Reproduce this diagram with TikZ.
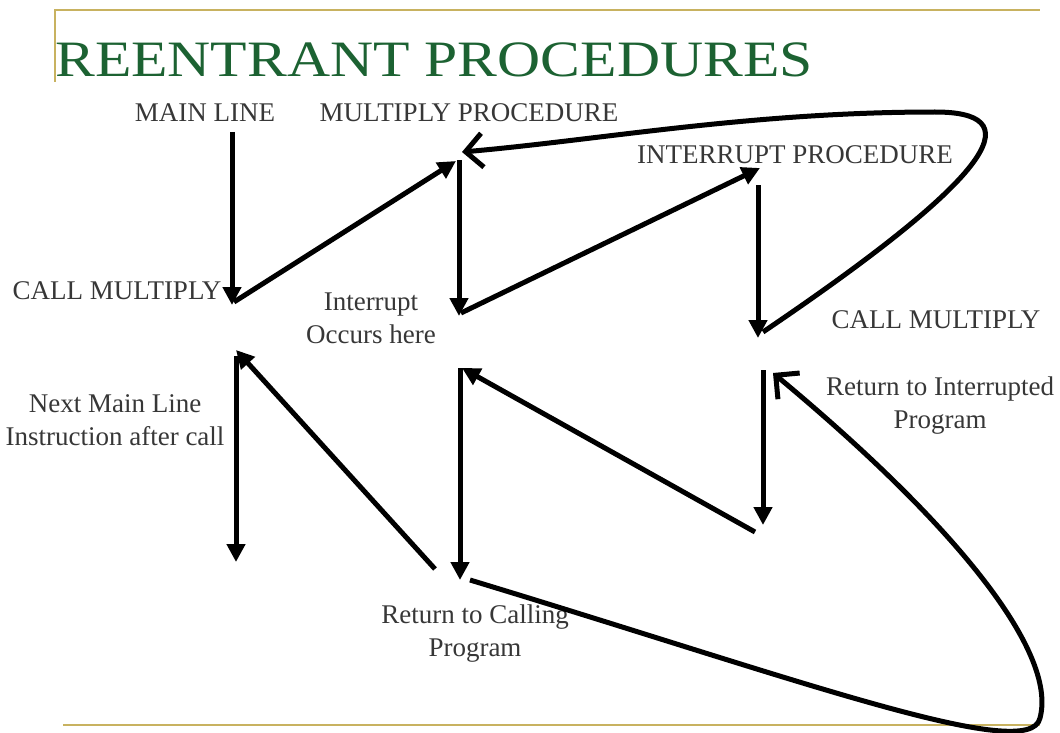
\documentclass[tikz,border=0pt]{standalone}
\usepackage{fontspec}
\setmainfont{Liberation Serif}
\usetikzlibrary{arrows.meta}
\definecolor{gold}{RGB}{200,178,96}
\definecolor{titlegreen}{RGB}{28,98,50}
\definecolor{txt}{RGB}{55,55,55}
\begin{document}
\begin{tikzpicture}[x=1pt,y=-1pt,
  flow/.style={line width=5pt, -{Triangle[length=18pt,width=18pt]}},
  loopline/.style={line width=5pt, -{Straight Barb[length=17pt,width=34pt]}},
  lbl/.style={font=\fontsize{27}{33}\selectfont, text=txt, align=center, inner sep=0pt},
  rule/.style={gold, line width=2.5pt}]
\useasboundingbox (0,0) rectangle (1060,733);
% frame rules
\coordinate (tl) at (55,10);
\coordinate (tr) at (1040,10);
\coordinate (lb) at (55,82);
\coordinate (bl) at (63,725);
\coordinate (br) at (1040,725);
\draw[rule] (lb) -- (tl) -- (tr);
\draw[rule] (bl) -- (br);
% title
\node[anchor=base west, font=\fontsize{51}{51}\selectfont, text=titlegreen, inner sep=0pt] (title) at (55,77) {\scalebox{1.17}[1]{REENTRANT PROCEDURES}};
% labels
\node[lbl] (mainline) at (205,113) {MAIN LINE};
\node[lbl] (multproc) at (469,113) {MULTIPLY PROCEDURE};
\node[lbl] (intproc) at (795,155) {INTERRUPT PROCEDURE};
\node[lbl] (callL) at (117,291) {CALL MULTIPLY};
\node[lbl] (callR) at (936,320) {CALL MULTIPLY};
\node[lbl] (intocc) at (371,318) {Interrupt\\Occurs here};
\node[lbl] (nextml) at (115,420) {Next Main Line\\Instruction after call};
\node[lbl] (retint) at (940,406) {Return to Interrupted\\Program};
\node[lbl] (retcall) at (475,634) {Return to Calling\\Program};
% points
\coordinate (a0) at (232,132);
\coordinate (a1) at (232,305);
\coordinate (b0) at (234,302);
\coordinate (b1) at (456,161);
\coordinate (c0) at (459,160);
\coordinate (c1) at (459,316);
\coordinate (d0) at (461,313);
\coordinate (d1) at (760,168);
\coordinate (e0) at (758,185);
\coordinate (e1) at (758,338);
\coordinate (f0) at (763,332);
\coordinate (f1) at (935,112);
\coordinate (f2) at (462,152);
\coordinate (g0) at (435,569);
\coordinate (g1) at (236,350);
\coordinate (h0) at (236,356);
\coordinate (h1) at (236,562);
\coordinate (i0) at (460,368);
\coordinate (i1) at (460,580);
\coordinate (j0) at (755,532);
\coordinate (j1) at (462,368);
\coordinate (k0) at (763,370);
\coordinate (k1) at (763,525);
\coordinate (m0) at (470,580);
\coordinate (m1) at (1040,718);
\coordinate (m2) at (773,373);
% upper arrows
\draw[flow] (a0) -- (a1);
\draw[flow] (b0) -- (b1);
\draw[flow] (c0) -- (c1);
\draw[flow] (d0) -- (d1);
\draw[flow] (e0) -- (e1);
\draw[loopline] (f0) .. controls (1010,165) and (1025,112) .. (f1) .. controls (750,112) and (600,140) .. (f2);
% lower arrows
\draw[flow] (g0) -- (g1);
\draw[flow] (h0) -- (h1);
\draw[flow] (i0) -- (i1);
\draw[flow] (j0) -- (j1);
\draw[flow] (k0) -- (k1);
\draw[loopline] (m0) .. controls (800,680) and (1030,765) .. (m1) .. controls (1058,650) and (950,520) .. (m2);
\end{tikzpicture}
\end{document}
